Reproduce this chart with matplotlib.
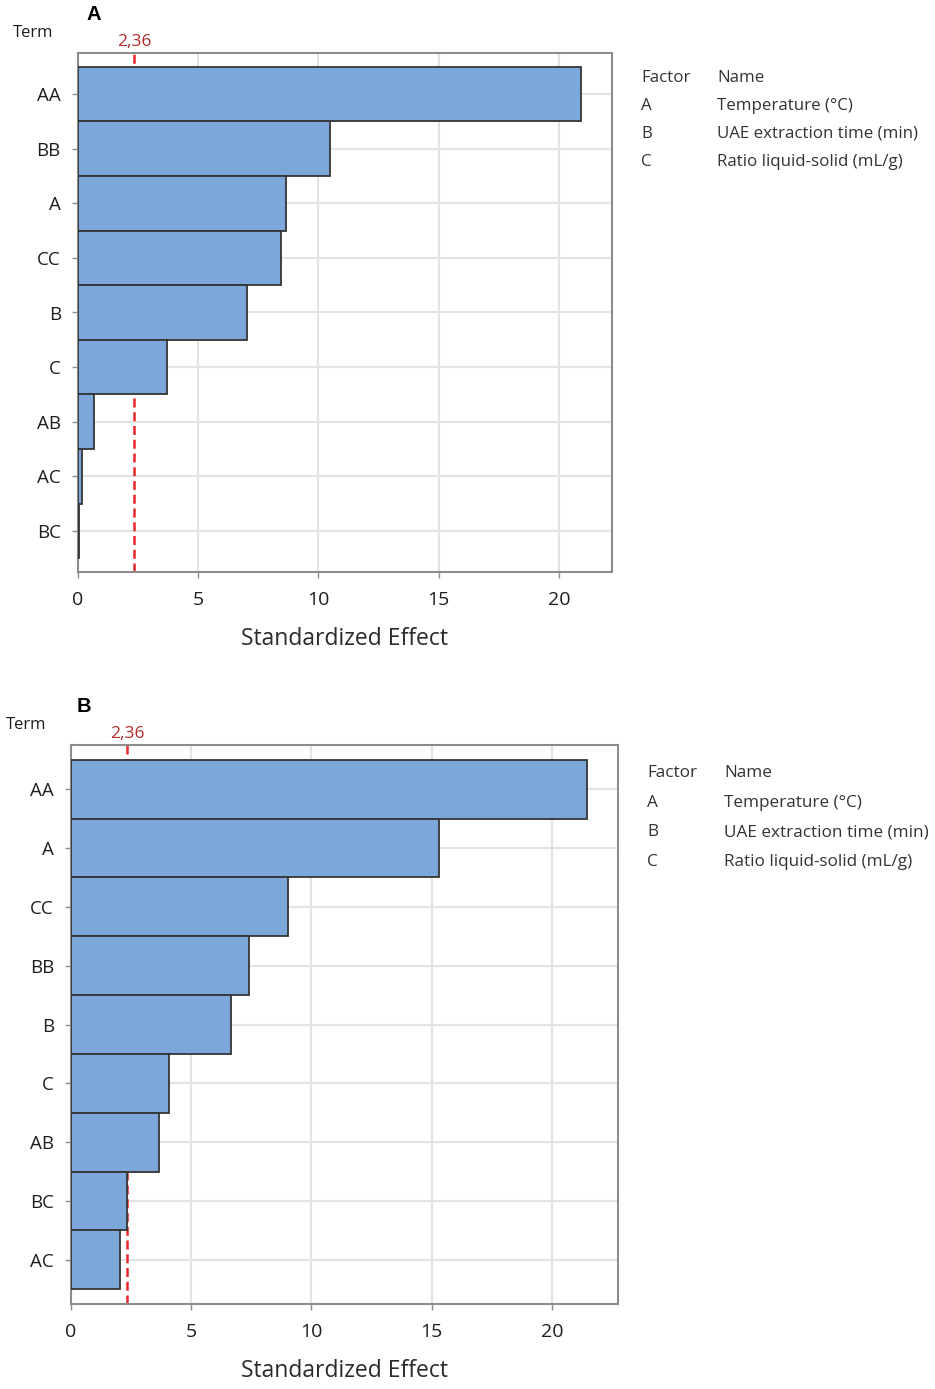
import matplotlib
matplotlib.use('Agg')
import matplotlib.pyplot as plt
import matplotlib.transforms as mtransforms

# Pareto chart of the standardized effects (two responses)
terms_a = ['AA', 'BB', 'A', 'CC', 'B', 'C', 'AB', 'AC', 'BC']
effects_a = [20.9, 10.5, 8.65, 8.45, 7.05, 3.7, 0.7, 0.2, 0.07]

terms_b = ['AA', 'A', 'CC', 'BB', 'B', 'C', 'AB', 'BC', 'AC']
effects_b = [21.45, 15.3, 9.05, 7.4, 6.65, 4.1, 3.65, 2.35, 2.05]

t_crit = 2.36
t_label = '2,36'

factors = ['A', 'B', 'C']
factor_names = ['Temperature (°C)', 'UAE extraction time (min)', 'Ratio liquid-solid (mL/g)']

W, H = 935, 1389
plt.rcParams['font.family'] = ['Open Sans', 'DejaVu Sans']

BAR_COLOR = '#7ba7db'
EDGE_COLOR = '#353535'
GRID_COLOR = '#e3e3e3'
SPINE_COLOR = '#8c8c8c'
TEXT_COLOR = '#1e1e1e'


def px(x, y):
    return x / W, 1 - y / H


def pareto(ax, terms, effects, xmax):
    y = list(range(len(terms)))
    ax.barh(y, effects, height=1.0, color=BAR_COLOR, edgecolor=EDGE_COLOR,
            linewidth=1.3, zorder=3)
    ax.axvline(t_crit, color='#e8262b', linestyle=(0, (3.6, 1.9)), linewidth=1.8, zorder=2)
    ax.set_yticks(y)
    ax.set_yticklabels(terms, fontsize=13.5, color=TEXT_COLOR)
    ax.set_ylim(len(terms) - 0.25, -0.75)
    ax.set_xlim(0, xmax)
    ax.set_xticks([0, 5, 10, 15, 20])
    ax.tick_params(axis='x', labelsize=14, length=4, width=1, color=SPINE_COLOR, pad=9.5,
                   labelcolor=TEXT_COLOR)
    ax.tick_params(axis='y', length=4, width=1, color=SPINE_COLOR, pad=8)
    ax.grid(True, color=GRID_COLOR, linewidth=1.5, zorder=0)
    ax.set_axisbelow(True)
    for s in ax.spines.values():
        s.set_color(SPINE_COLOR)
        s.set_linewidth(1.5)
    trans = mtransforms.blended_transform_factory(ax.transData, ax.transAxes)
    ax.text(t_crit, 1.005, t_label, transform=trans, ha='center', va='bottom',
            color='#b22a2a', fontsize=12.5)
    ax.set_xlabel('Standardized Effect', fontsize=16.5, labelpad=13, color='#2a2a2a')


fig = plt.figure(figsize=(W / 100, H / 100), dpi=100)

ax_a = fig.add_axes([0.0829, 1 - 572 / H, 0.5717, (572 - 53) / H])
pareto(ax_a, terms_a, effects_a, 22.2)

ax_b = fig.add_axes([0.0756, 1 - 1304 / H, 0.5853, (1304 - 745) / H])
pareto(ax_b, terms_b, effects_b, 22.74)

# panel letters and "Term" headers
fig.text(*px(94, 15), 'A', family='Liberation Sans', fontweight='bold', fontsize=14.5,
         ha='center', va='center')
fig.text(*px(84, 707), 'B', family='Liberation Sans', fontweight='bold', fontsize=14.5,
         ha='center', va='center')
fig.text(*px(13, 33), 'Term', fontsize=12, ha='left', va='center', color=TEXT_COLOR)
fig.text(*px(6, 725), 'Term', fontsize=12, ha='left', va='center', color=TEXT_COLOR)

# factor tables
for (x0, x1, y0, dy, fs) in [(641, 717, 78, 28, 12.2), (647, 724, 773, 29.7, 12.3)]:
    fig.text(*px(x0, y0), 'Factor', fontsize=fs, ha='left', va='center', color='#333333')
    fig.text(*px(x1, y0), 'Name', fontsize=fs, ha='left', va='center', color='#333333')
    for i, (f, n) in enumerate(zip(factors, factor_names)):
        yy = y0 + dy * (i + 1)
        fig.text(*px(x0, yy), f, fontsize=fs, ha='left', va='center', color='#333333')
        fig.text(*px(x1, yy), n, fontsize=fs, ha='left', va='center', color='#333333')

fig.savefig('out.png', dpi=100)
